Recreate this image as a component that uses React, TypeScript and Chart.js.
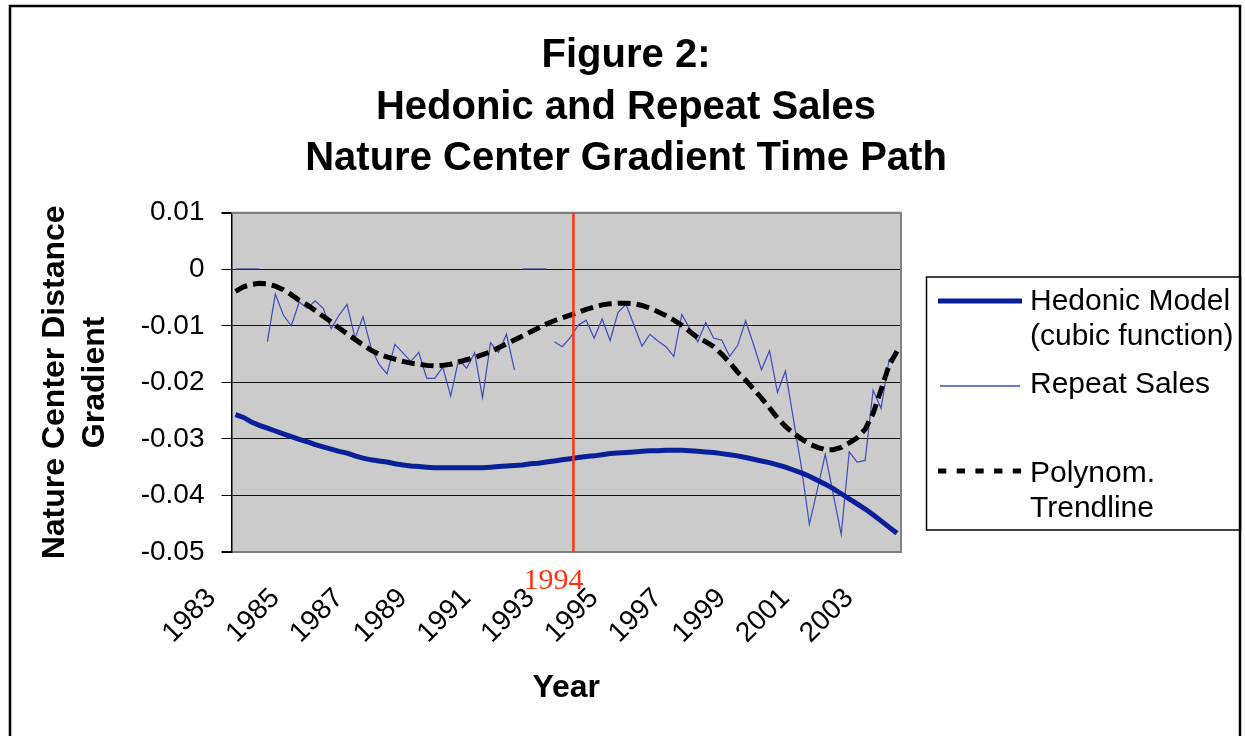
import React, { useEffect, useRef } from 'react';
import { Chart, registerables } from 'chart.js';

Chart.register(...registerables);

// ---------- data ----------
const years = [1983, 1984, 1985, 1986, 1987, 1988, 1989, 1990, 1991, 1992, 1993, 1994, 1995, 1996, 1997, 1998, 1999, 2000, 2001, 2002, 2003];
const quarterLabels: string[] = years.flatMap((y) => [String(y), String(y), String(y), String(y)]);

const titleLines = ['Figure 2:', 'Hedonic and Repeat Sales', 'Nature Center Gradient Time Path'];
const yTitleLines = ['Nature Center Distance', 'Gradient'];
const xTitle = 'Year';
const yTicks = [0.01, 0, -0.01, -0.02, -0.03, -0.04, -0.05];
const markerLabel = '1994';
const markerPos = 42.4; // position on the category scale

const N = null;

const hedonic = [
  -0.0257, -0.0262, -0.0270, -0.0276, -0.0281, -0.0286, -0.0291, -0.0296, -0.0301, -0.0305,
  -0.0310, -0.0314, -0.0318, -0.0322, -0.0325, -0.0330, -0.0334, -0.0337, -0.0339, -0.0341,
  -0.0344, -0.0346, -0.0348, -0.0349, -0.0350, -0.0351, -0.0351, -0.0351, -0.0351, -0.0351,
  -0.0351, -0.0351, -0.0350, -0.0349, -0.0348, -0.0347, -0.0346, -0.0344, -0.0343, -0.0341,
  -0.0339, -0.0337, -0.0335, -0.0333, -0.0331, -0.0330, -0.0328, -0.0326, -0.0325, -0.0324,
  -0.0323, -0.0322, -0.0321, -0.0321, -0.0320, -0.0320, -0.0320, -0.0321, -0.0322, -0.0323,
  -0.0324, -0.0326, -0.0328, -0.0330, -0.0333, -0.0336, -0.0339, -0.0342, -0.0346, -0.0350,
  -0.0355, -0.0360, -0.0366, -0.0373, -0.0380, -0.0388, -0.0397, -0.0406, -0.0415, -0.0424,
  -0.0434, -0.0445, -0.0456, -0.0467,
];

const repeatSales = [
  N, N, N, N, -0.0128, -0.0044, -0.0081, -0.0100, -0.0058, -0.0069,
  -0.0056, -0.0069, -0.0105, -0.0081, -0.0062, -0.0122, -0.0084, -0.0138, -0.0168, -0.0185,
  -0.0133, -0.0148, -0.0163, -0.0147, -0.0193, -0.0193, -0.0173, -0.0224, -0.0160, -0.0175,
  -0.0148, -0.0227, -0.0130, -0.0147, -0.0115, -0.0178, N, N, N, N,
  -0.0128, -0.0137, -0.0121, -0.0099, -0.0090, -0.0122, -0.0088, -0.0126, -0.0076, -0.0062,
  -0.0099, -0.0136, -0.0115, -0.0127, -0.0137, -0.0154, -0.0080, -0.0105, -0.0128, -0.0094,
  -0.0122, -0.0125, -0.0154, -0.0135, -0.0091, -0.0133, -0.0178, -0.0144, -0.0218, -0.0180,
  -0.0265, -0.0350, -0.0451, -0.0390, -0.0327, -0.0398, -0.0469, -0.0323, -0.0341, -0.0338,
  -0.0214, -0.0246, -0.0160, -0.0150,
];

const zeroRows = [
  0, 0, 0, 0, N, N, N, N, N, N,
  N, N, N, N, N, N, N, N, N, N,
  N, N, N, N, N, N, N, N, N, N,
  N, N, N, N, N, N, 0, 0, 0, 0,
  N, N, N, N, N, N, N, N, N, N,
  N, N, N, N, N, N, N, N, N, N,
  N, N, N, N, N, N, N, N, N, N,
  N, N, N, N, N, N, N, N, N, N,
  N, N, N, N,
];

const trendline = [
  -0.0039, -0.0031, -0.0027, -0.0025, -0.0026, -0.0030, -0.0036, -0.0045, -0.0055, -0.0063,
  -0.0073, -0.0083, -0.0093, -0.0104, -0.0114, -0.0124, -0.0134, -0.0143, -0.0150, -0.0155,
  -0.0159, -0.0163, -0.0166, -0.0168, -0.0170, -0.0171, -0.0170, -0.0168, -0.0164, -0.0160,
  -0.0156, -0.0151, -0.0146, -0.0139, -0.0132, -0.0125, -0.0118, -0.0111, -0.0104, -0.0097,
  -0.0091, -0.0086, -0.0081, -0.0076, -0.0071, -0.0067, -0.0063, -0.0061, -0.0060, -0.0060,
  -0.0061, -0.0064, -0.0069, -0.0075, -0.0082, -0.0090, -0.0099, -0.0110, -0.0121, -0.0128,
  -0.0137, -0.0150, -0.0165, -0.0182, -0.0196, -0.0212, -0.0228, -0.0245, -0.0263, -0.0278,
  -0.0290, -0.0300, -0.0309, -0.0315, -0.0319, -0.0319, -0.0315, -0.0307, -0.0298, -0.0283,
  -0.0255, -0.0213, -0.0170, -0.0145,
];

// ---------- styles ----------
const SANS = '"Liberation Sans", Arial, sans-serif';
const SERIF = '"Liberation Serif", "Times New Roman", serif';
const HEDONIC_COLOR = '#0a1f99';
const REPEAT_COLOR = '#3a4cc0';
const ZERO_COLOR = '#1b2b8e';
const RED = '#ff3311';

const decorPlugin = {
  id: 'decor',
  beforeDraw(chart: any) {
    const { ctx, chartArea: a } = chart;
    ctx.save();
    ctx.fillStyle = '#ffffff';
    ctx.fillRect(0, 0, chart.width, chart.height);
    ctx.fillStyle = '#cbcbcb';
    ctx.fillRect(a.left, a.top, a.right - a.left, a.bottom - a.top);
    // outer frame
    ctx.strokeStyle = '#000';
    ctx.lineWidth = 2.5;
    ctx.strokeRect(10, 6, 1230, 750);
    // title
    ctx.fillStyle = '#000';
    ctx.font = `bold 40px ${SANS}`;
    ctx.textAlign = 'center';
    ctx.textBaseline = 'alphabetic';
    titleLines.forEach((t, i) => ctx.fillText(t, 626, 67 + i * 51.5));
    ctx.restore();
  },
  afterDatasetsDraw(chart: any) {
    const { ctx, chartArea: a } = chart;
    const xs = chart.scales.x;
    ctx.save();
    // plot border top/right
    ctx.strokeStyle = '#808080';
    ctx.lineWidth = 2;
    ctx.beginPath();
    ctx.moveTo(a.left, a.top);
    ctx.lineTo(a.right, a.top);
    ctx.lineTo(a.right, a.bottom);
    ctx.stroke();

    // red marker line
    const mx = xs.getPixelForValue(markerPos);
    ctx.strokeStyle = RED;
    ctx.lineWidth = 2.5;
    ctx.beginPath();
    ctx.moveTo(mx, a.top);
    ctx.lineTo(mx, a.bottom);
    ctx.stroke();
    ctx.fillStyle = RED;
    ctx.font = `30px ${SERIF}`;
    ctx.textAlign = 'center';
    ctx.textBaseline = 'alphabetic';
    ctx.fillText(markerLabel, mx - 20, 589);

    // legend
    ctx.setLineDash([]);
    ctx.strokeStyle = '#000';
    ctx.lineWidth = 1.5;
    ctx.strokeRect(926.5, 277, 314, 253);

    const sample = (x1: number, x2: number, y: number, color: string, w: number, dash: number[]) => {
      ctx.save();
      ctx.strokeStyle = color;
      ctx.lineWidth = w;
      ctx.setLineDash(dash);
      ctx.beginPath();
      ctx.moveTo(x1, y);
      ctx.lineTo(x2, y);
      ctx.stroke();
      ctx.restore();
    };
    sample(938, 1022, 301, HEDONIC_COLOR, 5, []);
    sample(940, 1020, 386, REPEAT_COLOR, 1.5, []);
    sample(938, 1022, 471, '#000', 5, [8.3, 10.4]);

    ctx.fillStyle = '#000';
    ctx.font = `30px ${SANS}`;
    ctx.textAlign = 'left';
    ctx.textBaseline = 'alphabetic';
    ctx.fillText('Hedonic Model', 1030, 310);
    ctx.fillText('(cubic function)', 1030, 345);
    ctx.fillText('Repeat Sales', 1030, 393);
    ctx.fillText('Polynom.', 1030, 482);
    ctx.fillText('Trendline', 1030, 517);
    ctx.restore();
  },
};

const isEdge = (v: number) => Math.abs(v - 0.01) < 1e-6 || Math.abs(v + 0.05) < 1e-6;

export default function App() {
  const ref = useRef<HTMLCanvasElement | null>(null);

  useEffect(() => {
    if (!ref.current) return;
    const chart = new Chart(ref.current, {
      type: 'line',
      data: {
        labels: quarterLabels,
        datasets: [
          {
            label: 'Polynom. Trendline',
            data: trendline,
            borderColor: '#000',
            borderWidth: 5,
            borderDash: [13, 6],
            pointRadius: 0,
            fill: false,
            tension: 0,
          },
          {
            label: 'Hedonic Model (cubic function)',
            data: hedonic,
            borderColor: HEDONIC_COLOR,
            borderWidth: 5,
            pointRadius: 0,
            fill: false,
            tension: 0,
          },
          {
            label: 'Repeat Sales',
            data: repeatSales,
            borderColor: REPEAT_COLOR,
            borderWidth: 1.2,
            pointRadius: 0,
            fill: false,
            spanGaps: false,
            tension: 0,
          },
          {
            label: 'zero',
            data: zeroRows,
            borderColor: ZERO_COLOR,
            borderWidth: 1.5,
            pointRadius: 0,
            fill: false,
            spanGaps: false,
            tension: 0,
          },
        ],
      },
      options: {
        responsive: false,
        animation: false,
        devicePixelRatio: 1,
        layout: { padding: { left: 10, right: 344, top: 212.7, bottom: 10 } },
        plugins: {
          legend: { display: false },
          title: { display: false },
          tooltip: { enabled: false },
        },
        scales: {
          x: {
            type: 'category',
            offset: true,
            grid: { display: false, drawTicks: false },
            border: { display: true, color: '#808080', width: 2 },
            ticks: {
              autoSkip: false,
              minRotation: 45,
              maxRotation: 45,
              padding: 30,
              labelOffset: -24,
              color: '#000',
              font: { family: SANS, size: 28 },
              callback: (_v: any, i: number) => (i % 8 === 0 ? quarterLabels[i] : ''),
            },
            title: {
              display: true,
              text: xTitle,
              color: '#000',
              font: { family: SANS, size: 32, weight: 'bold' },
              padding: { top: 0, bottom: 19 },
            },
            afterFit: (s: any) => {
              s.height = 174;
            },
          },
          y: {
            min: yTicks[yTicks.length - 1],
            max: yTicks[0],
            afterBuildTicks: (s: any) => {
              s.ticks = yTicks.map((v) => ({ value: v }));
            },
            ticks: {
              padding: 17,
              color: '#000',
              font: { family: SANS, size: 28 },
              callback: (v: any) => {
                const n = Number(v);
                return Math.abs(n) < 1e-9 ? '0' : n.toFixed(2);
              },
            },
            grid: {
              color: (c: any) => (c.tick && isEdge(c.tick.value) ? '#808080' : '#111111'),
              lineWidth: (c: any) => (c.tick && isEdge(c.tick.value) ? 2 : 1),
              tickColor: '#000',
              tickLength: 10,
              drawTicks: true,
            },
            border: { display: true, color: '#000', width: 1.5 },
            title: {
              display: true,
              text: yTitleLines,
              color: '#000',
              font: { family: SANS, size: 32, weight: 'bold', lineHeight: 1.25 },
              padding: { top: 25, bottom: 0 },
            },
            afterFit: (s: any) => {
              s.width = 221.5;
            },
          },
        },
      } as any,
      plugins: [decorPlugin],
    });
    return () => chart.destroy();
  }, []);

  return (
    <div style={{ position: 'absolute', left: 0, top: 0, width: 1245, height: 736 }}>
      <canvas ref={ref} width={1245} height={736} style={{ display: 'block' }} />
    </div>
  );
}
